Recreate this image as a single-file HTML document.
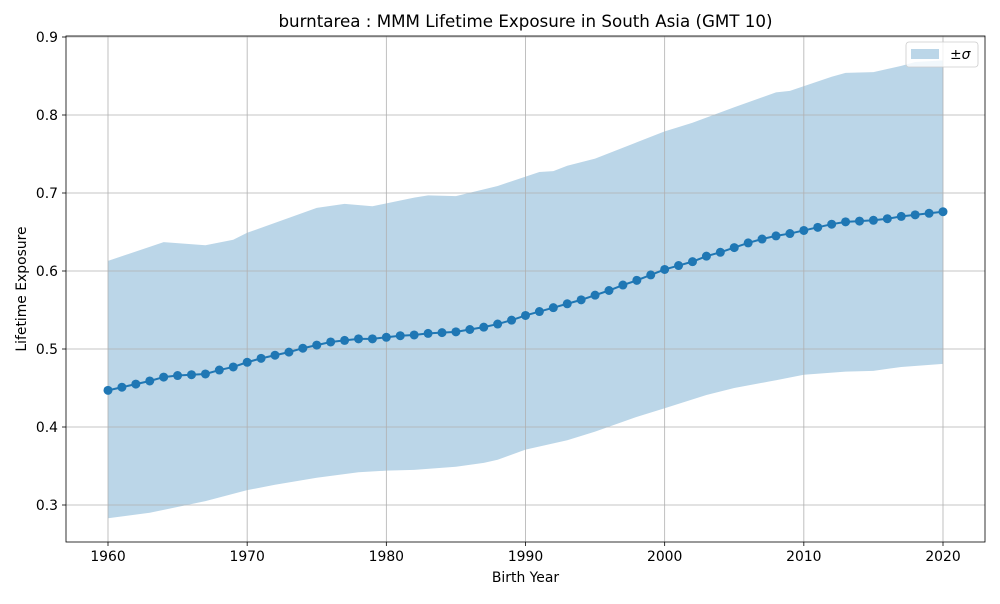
<!DOCTYPE html>
<html><head><meta charset="utf-8"><style>
body{margin:0;background:#fff;font-family:"DejaVu Sans","Liberation Sans",sans-serif}
svg text{font-family:"DejaVu Sans","Liberation Sans",sans-serif}
</style></head><body>
<svg id="chart" width="1000" height="600" xmlns="http://www.w3.org/2000/svg">
<rect width="1000" height="600" fill="#fff"/>
<g id="band"></g>
<g id="grid"></g>
<g id="series"></g>
<rect x="66" y="36" width="919" height="506" fill="none" stroke="#000" stroke-width="0.8"/>
<g id="axes"></g>
<text x="525.5" y="27" font-size="16.7" text-anchor="middle">burntarea : MMM Lifetime Exposure in South Asia (GMT 10)</text>
<text x="525.5" y="582" font-size="13.9" text-anchor="middle">Birth Year</text>
<text x="26" y="289" font-size="13.9" text-anchor="middle" transform="rotate(-90 26 289)">Lifetime Exposure</text>
<g>
<rect x="906" y="42" width="72" height="25" rx="3" fill="#fff" fill-opacity="0.8" stroke="#ccc" stroke-width="0.8"/>
<rect x="911" y="49" width="28" height="10" fill="#1f77b4" fill-opacity="0.3"/>
<text x="950" y="59" font-size="13.9">±<tspan font-style="italic">σ</tspan></text>
</g>
</svg>
<script>
const years=[];for(let y=1960;y<=2020;y++)years.push(y);
const meanVals=[.447,.451,.455,.459,.464,.466,.467,.468,.473,.477,.483,.488,.492,.496,.501,.505,.509,.511,.513,.513,.515,.517,.518,.520,.521,.522,.525,.528,.532,.537,.543,.548,.553,.558,.563,.569,.575,.582,.588,.595,.602,.607,.612,.619,.624,.630,.636,.641,.645,.648,.652,.656,.660,.663,.664,.665,.667,.670,.672,.674,.676];
const upperYears=[1960,1964,1967,1969,1970,1975,1977,1979,1982,1983,1985,1988,1991,1992,1993,1995,1998,2000,2002,2005,2008,2009,2012,2013,2015,2017,2018,2020];
const upperVals=[.613,.637,.633,.640,.649,.681,.686,.683,.694,.697,.696,.709,.727,.728,.735,.744,.765,.779,.790,.810,.829,.831,.849,.854,.855,.863,.868,.870];
const lowerYears=[1960,1963,1967,1970,1972,1975,1978,1980,1982,1985,1987,1988,1990,1993,1995,1998,2000,2003,2005,2008,2010,2013,2015,2017,2020];
const lowerVals=[.283,.290,.305,.319,.326,.335,.342,.344,.345,.349,.354,.358,.371,.383,.394,.413,.424,.441,.450,.460,.467,.471,.472,.477,.481];
const xTicks=[1960,1970,1980,1990,2000,2010,2020];
const yTicks=[0.3,0.4,0.5,0.6,0.7,0.8,0.9];
const X=v=>108+(v-1960)*(835/60);
const Y=v=>505-(v-0.3)*780;
const NS="http://www.w3.org/2000/svg";
function mk(t,a,p){const e=document.createElementNS(NS,t);for(const k in a)e.setAttribute(k,a[k]);p.appendChild(e);return e;}
const grid=document.getElementById('grid'),axes=document.getElementById('axes');
xTicks.forEach(t=>{
 const g=mk('line',{x1:X(t),x2:X(t),y1:36,y2:542,stroke:'#b0b0b0','stroke-width':0.8},grid);
 
 
 const tk=mk('line',{x1:X(t),x2:X(t),y1:542,y2:546,stroke:'#000','stroke-width':0.8},axes);
 
 
 const tx=mk('text',{x:X(t),y:561,'font-size':13.9,'text-anchor':'middle'},axes);tx.textContent=t;
 
 
});
yTicks.forEach(t=>{
 const g=mk('line',{x1:66,x2:985,y1:Y(t),y2:Y(t),stroke:'#b0b0b0','stroke-width':0.8},grid);
 
 
 const tk=mk('line',{x1:62,x2:66,y1:Y(t),y2:Y(t),stroke:'#000','stroke-width':0.8},axes);
 
 
 const tx=mk('text',{x:58,y:Y(t)+5,'font-size':13.9,'text-anchor':'end'},axes);tx.textContent=t.toFixed(1);
 
 
});
let d='M'+upperYears.map((y,i)=>X(y)+','+Y(upperVals[i])).join('L');
for(let i=lowerYears.length-1;i>=0;i--)d+='L'+X(lowerYears[i])+','+Y(lowerVals[i]);
const band=mk('path',{d:d+'Z',fill:'#1f77b4','fill-opacity':0.3},document.getElementById('band'));


const s=document.getElementById('series');
const ln=mk('polyline',{points:years.map((y,i)=>X(y)+','+Y(meanVals[i])).join(' '),fill:'none',stroke:'#1f77b4','stroke-width':2},s);


years.forEach((y,i)=>{
 const c=mk('circle',{cx:X(y),cy:Y(meanVals[i]),r:4.5,fill:'#1f77b4'},s);
 
 
});
</script>
</body></html>
